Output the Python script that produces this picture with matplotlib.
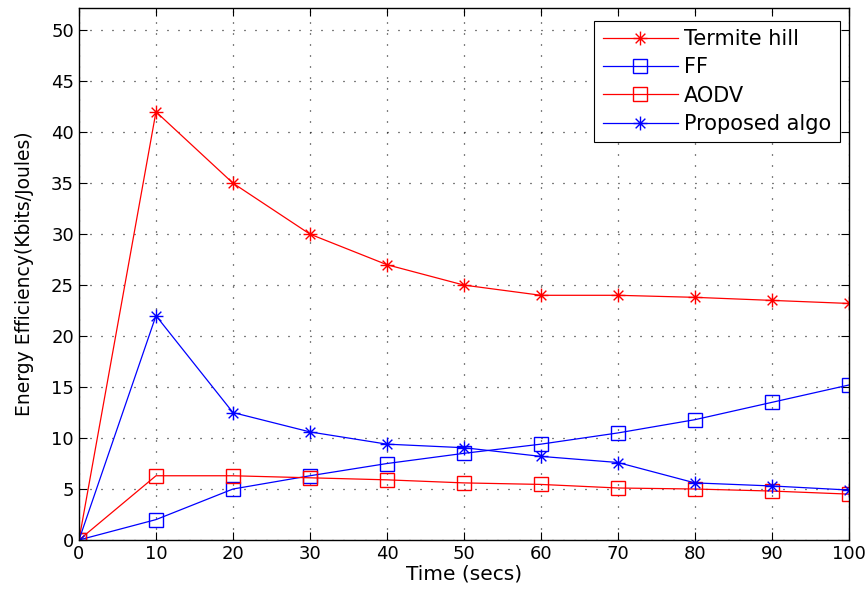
import matplotlib
matplotlib.use('Agg')
import matplotlib.pyplot as plt
from matplotlib.path import Path

# Time axis (secs)
time = [0, 10, 20, 30, 40, 50, 60, 70, 80, 90, 100]

# Energy efficiency (Kbits/Joules)
termite_hill = [0, 42, 35, 30, 27, 25, 24, 24, 23.8, 23.5, 23.2]
ff = [0, 2, 5, 6.3, 7.5, 8.5, 9.4, 10.5, 11.8, 13.5, 15.2]
aodv = [0, 6.3, 6.3, 6.1, 5.9, 5.6, 5.45, 5.1, 5.0, 4.8, 4.5]
proposed = [0, 22, 12.5, 10.6, 9.4, 9.05, 8.2, 7.6, 5.6, 5.3, 4.9]

x_ticks = [0, 10, 20, 30, 40, 50, 60, 70, 80, 90, 100]
y_ticks = [0, 5, 10, 15, 20, 25, 30, 35, 40, 45, 50]

plt.rcParams['font.family'] = ['DejaVu Sans']

# MATLAB-style 8-arm asterisk marker
d = 0.7
asterisk = Path([(-1, 0), (1, 0), (0, -1), (0, 1), (-d, -d), (d, d), (-d, d), (d, -d)],
                [Path.MOVETO, Path.LINETO] * 4)

fig = plt.figure(figsize=(8.67, 5.98), dpi=100)
ax = fig.add_axes([0.0911, 0.097, 0.888, 0.89])

lw = 0.9
ax.plot(time, termite_hill, color='red', marker=asterisk, markersize=10, linewidth=lw,
        markerfacecolor='none', markeredgewidth=1.0, label='Termite hill')
ax.plot(time, ff, color='blue', marker='s', markersize=10, linewidth=lw,
        markerfacecolor='none', markeredgewidth=1.0, label='FF')
ax.plot(time, aodv, color='red', marker='s', markersize=10, linewidth=lw,
        markerfacecolor='none', markeredgewidth=1.0, label='AODV')
ax.plot(time, proposed, color='blue', marker=asterisk, markersize=10, linewidth=lw,
        markerfacecolor='none', markeredgewidth=1.0, label='Proposed algo')

ax.set_xlim(0, 100)
ax.set_ylim(0, 52.2)
ax.set_xticks(x_ticks)
ax.set_yticks(y_ticks)
ax.tick_params(direction='in', top=True, right=True, labelsize=13, length=6, width=0.8)
ax.grid(True, linestyle=(0, (0.8, 8)), color='black', linewidth=0.9)
for s in ax.spines.values():
    s.set_linewidth(1.0)

ax.set_xlabel('Time (secs)', fontsize=14.5, labelpad=1)
ax.set_ylabel('Energy Efficiency(Kbits/Joules)', fontsize=13.5, labelpad=12)

leg = ax.legend(loc='upper right', bbox_to_anchor=(0.988, 0.9756), fontsize=15,
                fancybox=False, framealpha=1, edgecolor='black', borderpad=0.4,
                labelspacing=0.4, handlelength=3.6, handletextpad=0.3, borderaxespad=0)
leg.get_frame().set_linewidth(0.8)

fig.savefig('out.png', dpi=100)
